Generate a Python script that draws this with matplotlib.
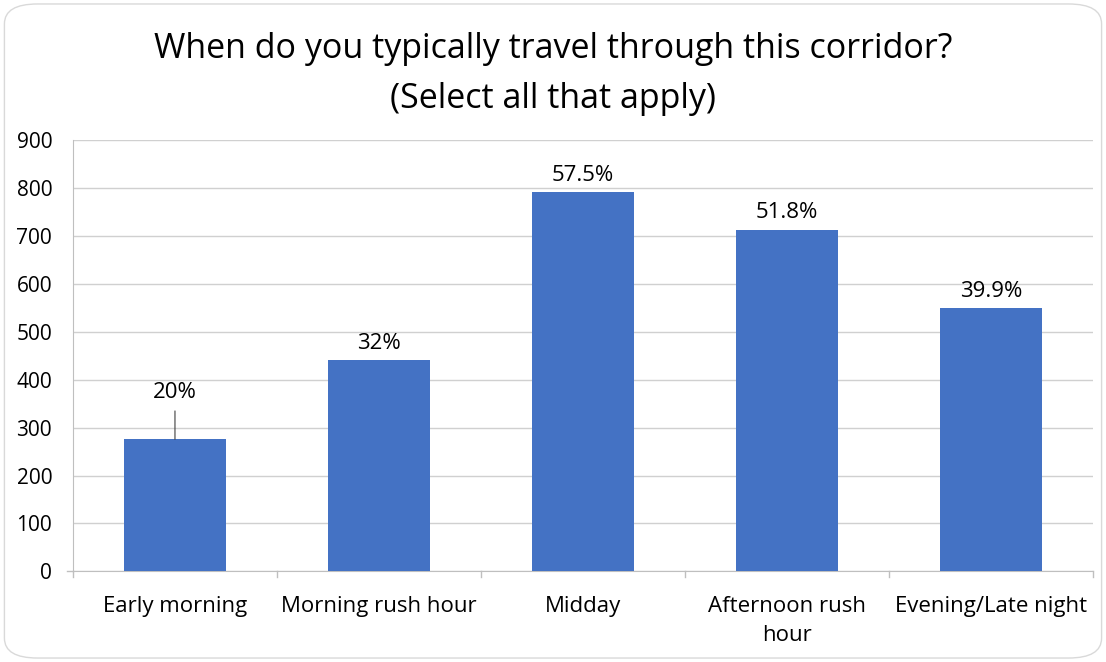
import matplotlib.pyplot as plt
from matplotlib.patches import FancyBboxPatch

# survey responses, share of all respondents (select all that apply)
categories = ["Early morning", "Morning rush hour", "Midday",
              "Afternoon rush hour", "Evening/Late night"]
tick_labels = ["Early morning", "Morning rush hour", "Midday",
               "Afternoon rush\nhour", "Evening/Late night"]
pct = [20, 32, 57.5, 51.8, 39.9]
pct_labels = ["20%", "32%", "57.5%", "51.8%", "39.9%"]
respondents = 1378

counts = [p / 100 * respondents for p in pct]

plt.rcParams['font.family'] = ['Open Sans', 'DejaVu Sans']

fig = plt.figure(figsize=(11.06, 6.62), dpi=100)
ax = fig.add_axes([0.066, 0.137, 0.922, 0.651])

# rounded frame around the chart area
frame = FancyBboxPatch((0.004, 0.006), 0.992, 0.988,
                       boxstyle="round,pad=0,rounding_size=0.03",
                       transform=fig.transFigure, facecolor="none",
                       edgecolor="#d9d9d9", linewidth=1.0, zorder=-1)
fig.patches.append(frame)

x = range(len(categories))
ax.bar(x, counts, width=0.5, color="#4472c4", zorder=3)

for i, (c, lab) in enumerate(zip(counts, pct_labels)):
    if i == 0:
        # label pushed up with a leader line
        ax.annotate(lab, xy=(i, c), xytext=(0, 34), textcoords="offset points",
                    ha="center", va="center", fontsize=16, color="#000000",
                    arrowprops=dict(arrowstyle="-", color="#404040", lw=0.8,
                                    shrinkA=4, shrinkB=0))
    else:
        ax.annotate(lab, xy=(i, c), xytext=(0, 12), textcoords="offset points",
                    ha="center", va="center", fontsize=16, color="#000000")

ax.set_xlim(-0.5, len(categories) - 0.5)
ax.set_ylim(0, 900)
ax.set_yticks(range(0, 901, 100))
ax.set_xticks(list(x))
ax.set_xticklabels(tick_labels, fontsize=16, linespacing=1.5)
ax.tick_params(axis="y", labelsize=15, length=0, pad=15)
ax.tick_params(axis="x", length=0, pad=18)

# category separator ticks below the axis
for b in [i - 0.5 for i in range(len(categories) + 1)]:
    ax.plot([b, b], [0, -12], color="#bfbfbf", lw=1, clip_on=False, zorder=2)
ax.plot([-0.5, -0.5 - 0.03], [0, 0], color="#bfbfbf", lw=1, clip_on=False)

ax.grid(axis="y", color="#d0d0d0", linewidth=1, zorder=0)
for side in ["top", "right"]:
    ax.spines[side].set_visible(False)
ax.spines["left"].set_color("#bfbfbf")
ax.spines["bottom"].set_color("#bfbfbf")

fig.suptitle("When do you typically travel through this corridor?\n(Select all that apply)",
             fontsize=24.5, y=0.951, linespacing=1.6)

fig.savefig("out.png", dpi=100)
